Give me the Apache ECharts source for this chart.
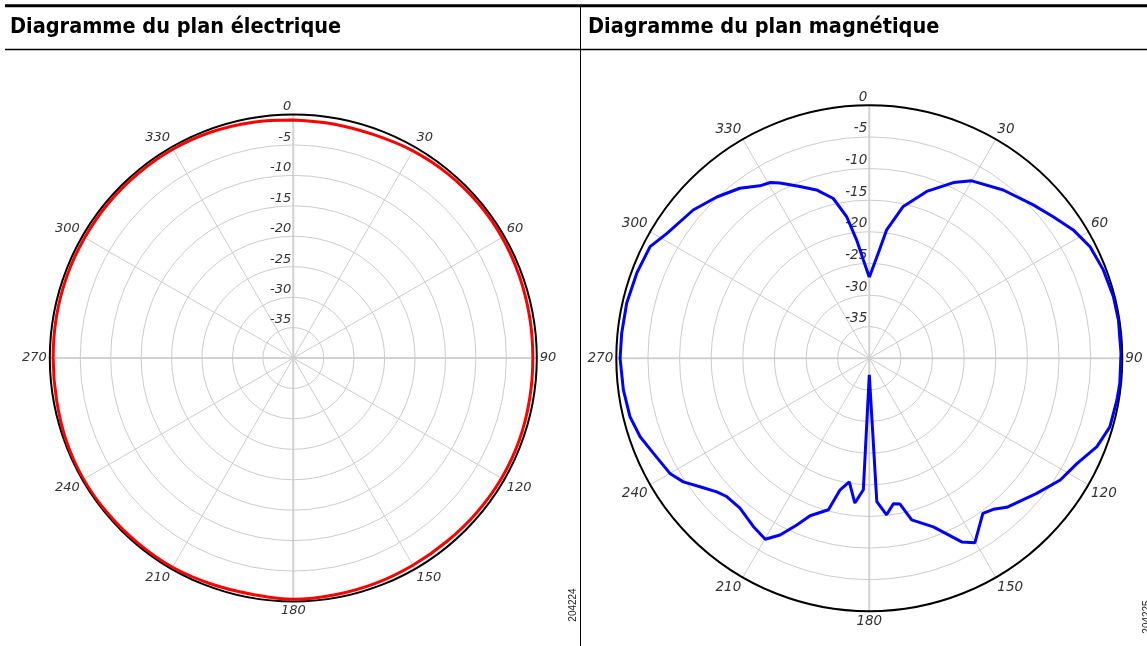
<!DOCTYPE html>
<html><head><meta charset="utf-8">
<script src="https://cdn.jsdelivr.net/npm/echarts@6/dist/echarts.min.js"></script>
<style>html,body{margin:0;padding:0;background:#fff}#c{width:1147px;height:646px}</style>
</head><body><div id="c"></div>
<script>
// ---- data ----
const titles = ['Diagramme du plan électrique', 'Diagramme du plan magnétique'];
const figureIds = ['204224', '204225'];
const angleTickLabels = ['', '30', '60', '90', '120', '150', '180', '210', '240', '270', '300', '330', ''];
const radialTickLabels = ['', '-35', '-30', '-25', '-20', '-15', '-10', '-5', '0'];

// E-plane (red)
const eAngles = [0,10,20,30,40,50,60,70,80,90,100,110,120,130,140,150,160,170,180,190,200,210,220,230,240,250,260,270,280,290,300,310,320,330,340,350];
const eGain   = [-0.9,-1.0,-1.0,-0.7,-0.5,-0.4,-0.4,-0.5,-0.6,-0.65,-0.6,-0.5,-0.5,-0.6,-0.7,-0.7,-0.6,-0.5,-0.35,-0.6,-0.5,-0.3,-0.3,-0.25,-0.2,-0.3,-0.5,-0.55,-0.5,-0.45,-0.45,-0.4,-0.4,-0.4,-0.5,-0.7];

// H-plane (blue)
const hAngles = [0,4.9,7.7,12.6,19.0,25.6,30.0,38.5,46.9,52.4,57.8,63.2,69.3,75.8,81.3,88.9,95.7,99.6,105.9,111.2,116.9,122.5,128.9,137.3,140.6,143.8,150.2,153.3,159.2,165.3,168.1,170.6,173.7,177.0,180.0,182.6,185.7,189.2,192.5,195.1,200.6,203.5,206.8,209.9,214.6,220.8,225.9,228.8,232.8,236.4,240.0,246.3,251.1,256.3,262.7,270.0,275.8,282.8,290.1,297.0,301.7,310.1,316.6,322.7,327.6,330.6,333.0,338.0,342.6,347.3,350.9,353.9,356.5];
const hGain   = [-27.2,-23.3,-19.5,-15.4,-12.1,-9.2,-7.6,-6.0,-4.5,-3.3,-1.9,-0.9,-0.45,-0.2,-0.15,-0.2,-0.2,-0.3,-0.45,-1.4,-3.2,-4.2,-6.0,-7.95,-9.1,-9.6,-6.4,-7.5,-11.5,-13.6,-16.45,-16.7,-15.1,-17.3,-37.4,-19.2,-17.0,-20.2,-18.7,-15.2,-13.4,-11.25,-8.7,-7.0,-7.7,-8.7,-8.6,-7.95,-6.4,-4.7,-3.6,-2.7,-1.7,-1.05,-0.8,-0.6,-0.65,-0.66,-0.85,-1.1,-2.4,-3.6,-4.9,-6.2,-7.7,-8.1,-8.9,-10.7,-12.1,-14.1,-17.3,-21.2,-24.4];

function closedLoop(angles, gains) {
  const d = angles.map((a, i) => [gains[i], a]);
  d.push([gains[0], angles[0] + 360]);
  return d;
}

const labelFont = 'DejaVu Sans';
const gridColor = '#cccccc';
function angleAxis(idx, fs) {
  return {
    polarIndex: idx, type: 'value', min: 0, max: 360, interval: 30,
    startAngle: 90, clockwise: true, z: 1,
    axisLine: { show: true, lineStyle: { color: '#000', width: 2 } },
    axisTick: { show: false },
    axisLabel: {
      margin: 3, fontFamily: labelFont, fontStyle: 'italic', fontSize: fs, color: '#333',
      formatter: v => angleTickLabels[Math.round(v / 30)] || ''
    },
    splitLine: { show: true, lineStyle: { color: gridColor, width: 1 } }
  };
}
// overlay axis: heavier, lighter main cross (0/90/180/270)
function crossAxis(idx) {
  return {
    polarIndex: idx, type: 'value', min: 0, max: 360, interval: 90,
    startAngle: 90, clockwise: true, z: 0,
    axisLine: { show: false }, axisTick: { show: false }, axisLabel: { show: false },
    splitLine: { show: true, lineStyle: { color: '#d9d9d9', width: 2 } }
  };
}
function radiusAxis(idx, fs) {
  return {
    polarIndex: idx, type: 'value', min: -40, max: 0, interval: 5, z: 1,
    axisLine: { show: false }, axisTick: { show: false },
    axisLabel: {
      margin: 2, align: 'right', verticalAlign: 'bottom', padding: [0, 0, 1, 0],
      fontFamily: labelFont, fontStyle: 'italic', fontSize: fs, color: '#333',
      formatter: v => radialTickLabels[Math.round((v + 40) / 5)] || ''
    },
    splitLine: { show: true, lineStyle: { color: gridColor, width: 1 } }
  };
}
function blankRadius(idx) {
  return {
    polarIndex: idx, type: 'value', min: -40, max: 0, interval: 5,
    axisLine: { show: false }, axisTick: { show: false }, axisLabel: { show: false },
    splitLine: { show: false }
  };
}

const leftPolar = { center: [293.3, 358], radius: 243.5 };
const rightPolar = { center: [869.3, 358.3], radius: 253 };
const titleStyle = { fontFamily: 'DejaVu Sans Condensed', fontWeight: 'bold', fontSize: 21.5, color: '#000' };

const chart = echarts.init(document.getElementById('c'), null, { renderer: 'canvas' });
chart.setOption({
  backgroundColor: '#fff',
  animation: false,
  title: [
    { text: titles[0], left: 10, top: 16, padding: 0, textStyle: titleStyle },
    { text: titles[1], left: 588, top: 16, padding: 0, textStyle: titleStyle }
  ],
  polar: [leftPolar, rightPolar, leftPolar, rightPolar],
  angleAxis: [angleAxis(0, 13), angleAxis(1, 13.5), crossAxis(2), crossAxis(3)],
  radiusAxis: [radiusAxis(0, 13), radiusAxis(1, 13.5), blankRadius(2), blankRadius(3)],
  series: [
    { type: 'line', coordinateSystem: 'polar', polarIndex: 0, showSymbol: false, clip: false, smooth: 0.4, z: 5,
      lineStyle: { color: '#ff0000', width: 3 }, data: closedLoop(eAngles, eGain) },
    { type: 'line', coordinateSystem: 'polar', polarIndex: 1, showSymbol: false, clip: false, z: 5,
      lineStyle: { color: '#0000ff', width: 3 }, data: closedLoop(hAngles, hGain) }
  ],
  graphic: [
    { type: 'line', shape: { x1: 5, y1: 5.8, x2: 1147, y2: 5.8 }, style: { stroke: '#000', lineWidth: 3 } },
    { type: 'line', shape: { x1: 5, y1: 49.5, x2: 1147, y2: 49.5 }, style: { stroke: '#000', lineWidth: 1.5 } },
    { type: 'line', shape: { x1: 580.5, y1: 6, x2: 580.5, y2: 646 }, style: { stroke: '#000', lineWidth: 1 } },
    { type: 'text', x: 573, y: 605, rotation: Math.PI / 2,
      style: { text: figureIds[0], fontFamily: 'Liberation Sans', fontSize: 10, fill: '#222', align: 'center', verticalAlign: 'middle' } },
    { type: 'text', x: 1147, y: 617, rotation: Math.PI / 2,
      style: { text: figureIds[1], fontFamily: 'Liberation Sans', fontSize: 10, fill: '#222', align: 'center', verticalAlign: 'middle' } }
  ]
});
</script></body></html>
